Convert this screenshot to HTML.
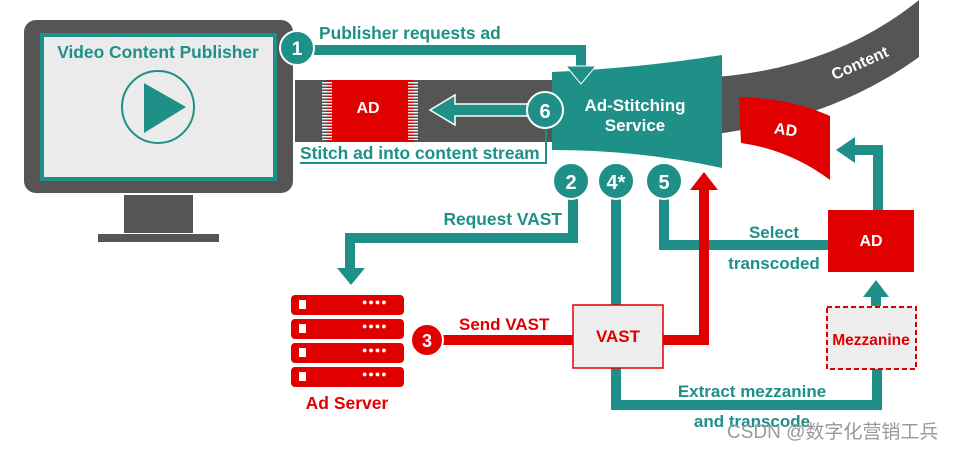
<!DOCTYPE html>
<html><head><meta charset="utf-8"><style>body{margin:0;background:#fff}svg{display:block}text{font-family:"Liberation Sans",Arial,sans-serif;font-weight:bold}</style></head><body>
<svg width="954" height="449" viewBox="0 0 954 449">
<path d="M700,78 Q830,72 919,0 L919,57 Q830,122 700,136 Z" fill="#555"/>
<text x="862" y="68" fill="#fff" font-size="16" transform="rotate(-24 862 68)" text-anchor="middle">Content</text>
<rect x="24" y="20" width="269" height="173" rx="12" fill="#555"/>
<rect x="42" y="35" width="233" height="144" fill="#ebebeb" stroke="#1e9088" stroke-width="4"/>
<text x="158" y="58" fill="#1e9088" font-size="17.4" text-anchor="middle">Video Content Publisher</text>
<circle cx="158" cy="107" r="36" fill="none" stroke="#1e9088" stroke-width="2"/>
<path d="M144,83 L186,107 L144,133 Z" fill="#1e9088"/>
<rect x="124" y="195" width="69" height="38" fill="#555"/>
<rect x="98" y="234" width="121" height="8" fill="#555"/>
<rect x="295" y="80" width="265" height="62" fill="#555"/>
<rect x="327" y="80" width="86" height="62" fill="#e00000"/>
<g fill="none" stroke="#eee" stroke-width="10" stroke-dasharray="1.5,1.5"><line x1="327" y1="82" x2="327" y2="140"/><line x1="413" y1="82" x2="413" y2="140"/></g>
<text x="368" y="113" fill="#fff" font-size="16" text-anchor="middle">AD</text>
<path d="M430,110 L455,95 L455,104 L540,104 L540,116 L455,116 L455,125 Z" fill="#1e9088" stroke="#fff" stroke-width="1.5"/>
<path d="M297,50 L581,50 L581,68" fill="none" stroke="#1e9088" stroke-width="10"/>
<text x="319" y="39" fill="#1e9088" font-size="17.4">Publisher requests ad</text>
<path d="M552,72 Q640,68 722,55 L722,168 Q640,150 552,150 Z" fill="#1e9088"/>
<path d="M566,66 L596,66 L581,84 Z" fill="#1e9088" stroke="#fff" stroke-width="1"/>
<text x="635" y="111" fill="#fff" font-size="17" text-anchor="middle">Ad-Stitching</text>
<text x="635" y="131" fill="#fff" font-size="17" text-anchor="middle">Service</text>
<circle cx="297" cy="48" r="17" fill="#1e9088" stroke="#fff" stroke-width="2"/>
<text x="297" y="55" fill="#fff" font-size="19" text-anchor="middle">1</text>
<path d="M300,163 L546,163 L546,125" fill="none" stroke="#1e9088" stroke-width="2"/>
<text x="300" y="159" fill="#1e9088" font-size="17.4">Stitch ad into content stream</text>
<circle cx="545" cy="110" r="18" fill="#1e9088" stroke="#fff" stroke-width="2"/>
<text x="545" y="118" fill="#fff" font-size="20" text-anchor="middle">6</text>
<path d="M739,97 Q790,98 830,116 L830,180 Q790,150 741,143 Z" fill="#e00000"/>
<text x="785" y="135" fill="#fff" font-size="16" text-anchor="middle" transform="rotate(8 785 135)">AD</text>
<path d="M573,195 L573,238 L350,238 L350,270" fill="none" stroke="#1e9088" stroke-width="10"/>
<path d="M337,268 L365,268 L351,285 Z" fill="#1e9088"/>
<text x="562" y="225" fill="#1e9088" font-size="17.4" text-anchor="end">Request VAST</text>
<path d="M616,195 L616,405 L877,405 L877,368" fill="none" stroke="#1e9088" stroke-width="10"/>
<path d="M664,195 L664,245 L830,245" fill="none" stroke="#1e9088" stroke-width="10"/>
<path d="M427,340 L704,340 L704,188" fill="none" stroke="#e00000" stroke-width="10"/>
<path d="M690,190 L718,190 L704,172 Z" fill="#e00000"/>
<path d="M878,212 L878,150 L855,150" fill="none" stroke="#1e9088" stroke-width="10"/>
<path d="M855,137 L836,150 L855,163 Z" fill="#1e9088"/>
<path d="M876,306 L876,294" fill="none" stroke="#1e9088" stroke-width="10"/>
<path d="M863,297 L889,297 L876,280 Z" fill="#1e9088"/>
<text x="459" y="330" fill="#e00000" font-size="17">Send VAST</text>
<text x="774" y="238" fill="#1e9088" font-size="17" text-anchor="middle">Select</text>
<text x="774" y="269" fill="#1e9088" font-size="17" text-anchor="middle">transcoded</text>
<text x="752" y="397" fill="#1e9088" font-size="17" text-anchor="middle">Extract mezzanine</text>
<text x="752" y="427" fill="#1e9088" font-size="17" text-anchor="middle">and transcode</text>
<rect x="573" y="305" width="90" height="63" fill="#eee" stroke="#e00000" stroke-width="1.5"/>
<text x="618" y="342" fill="#e00000" font-size="17" text-anchor="middle">VAST</text>
<rect x="828" y="210" width="86" height="62" fill="#e00000"/>
<text x="871" y="246" fill="#fff" font-size="16" text-anchor="middle">AD</text>
<rect x="827" y="307" width="89" height="62" fill="#eee" stroke="#e00000" stroke-width="2" stroke-dasharray="5,3"/>
<text x="871" y="345" fill="#e00000" font-size="15.5" text-anchor="middle">Mezzanine</text>
<g fill="#1e9088" stroke="#fff" stroke-width="2">
<circle cx="571" cy="181" r="18"/><circle cx="616" cy="181" r="18"/><circle cx="664" cy="181" r="18"/></g>
<text x="571" y="189" fill="#fff" font-size="20" text-anchor="middle">2</text>
<text x="616" y="189" fill="#fff" font-size="20" text-anchor="middle">4*</text>
<text x="664" y="189" fill="#fff" font-size="20" text-anchor="middle">5</text>
<circle cx="427" cy="340" r="16" fill="#e00000" stroke="#fff" stroke-width="2"/>
<text x="427" y="347" fill="#fff" font-size="18" text-anchor="middle">3</text>
<g fill="#e00000">
<rect x="291" y="295" width="113" height="20" rx="4"/><rect x="291" y="319" width="113" height="20" rx="4"/>
<rect x="291" y="343" width="113" height="20" rx="4"/><rect x="291" y="367" width="113" height="20" rx="4"/></g>
<g fill="#fff">
<rect x="299" y="300" width="7" height="9"/><rect x="299" y="324" width="7" height="9"/><rect x="299" y="348" width="7" height="9"/><rect x="299" y="372" width="7" height="9"/>
</g>
<g fill="#fff" font-size="9"><text x="362" y="305" letter-spacing="1">●●●●</text><text x="362" y="329" letter-spacing="1">●●●●</text><text x="362" y="353" letter-spacing="1">●●●●</text><text x="362" y="377" letter-spacing="1">●●●●</text></g>
<text x="347" y="409" fill="#e00000" font-size="17.5" text-anchor="middle">Ad Server</text>
<text x="727" y="438" fill="#999" font-size="19" style="font-weight:normal;font-family:'Liberation Sans','Noto Sans CJK SC',sans-serif">CSDN @数字化营销工兵</text>
</svg>
</body></html>
